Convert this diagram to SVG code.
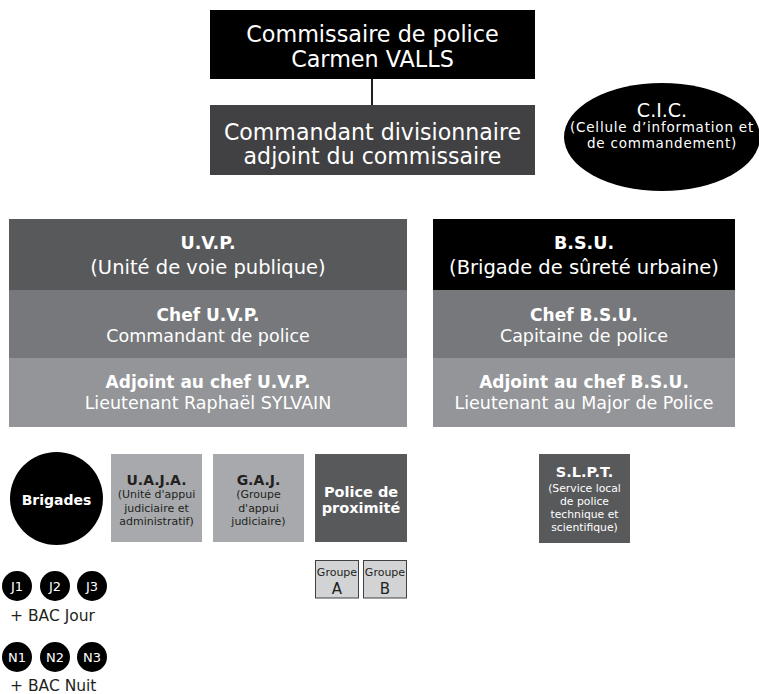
<svg xmlns="http://www.w3.org/2000/svg" width="759" height="694" viewBox="0 0 759 694">
<style>
text{font-family:"DejaVu Sans","Liberation Sans",sans-serif;text-anchor:middle}
.w{fill:#ffffff}
.k{fill:#231f20}
.b{font-weight:bold}
.blk{fill:#000000}
.dk{fill:#414042}
.g1{fill:#58595b}
.g2{fill:#77787b}
.g3{fill:#939598}
.g4{fill:#a7a9ac}
.grp{fill:#d1d3d4;stroke:#414042;stroke-width:1}
.conn{stroke:#231f20;stroke-width:2;fill:none}
</style>
<rect width="759" height="694" fill="#ffffff"/>
<g id="connectors">
<line class="conn" x1="372" y1="79" x2="372" y2="105"/>
</g>
<g id="commissaire">
<rect class="blk" x="210" y="10" width="325" height="69"/>
<text class="w" x="372.5" y="42" font-size="22.3">Commissaire de police</text>
<text class="w" x="372.5" y="67" font-size="22.3">Carmen VALLS</text>
</g>
<g id="commandant">
<rect class="dk" x="210" y="105" width="325" height="70"/>
<text class="w" x="372.5" y="140" font-size="22.1">Commandant divisionnaire</text>
<text class="w" x="372.5" y="164" font-size="22.1">adjoint du commissaire</text>
</g>
<g id="cic">
<ellipse class="blk" cx="662" cy="137" rx="98" ry="54"/>
<text class="w" x="662" y="117" font-size="19">C.I.C.</text>
<text class="w" x="662" y="132" font-size="13.5" letter-spacing="0.8">(Cellule d’information et</text>
<text class="w" x="662" y="148" font-size="13.5" letter-spacing="0.8">de commandement)</text>
</g>
<g id="uvp">
<rect class="g1" x="9" y="219" width="398" height="71"/>
<rect class="g2" x="9" y="290" width="398" height="68"/>
<rect class="g3" x="9" y="358" width="398" height="69"/>
<text class="w b" x="208" y="249" font-size="17.5">U.V.P.</text>
<text class="w" x="208" y="274" font-size="19.5">(Unité de voie publique)</text>
<text class="w b" x="208" y="321" font-size="17">Chef U.V.P.</text>
<text class="w" x="208" y="342" font-size="17.5">Commandant de police</text>
<text class="w b" x="208" y="388" font-size="17">Adjoint au chef U.V.P.</text>
<text class="w" x="208" y="409" font-size="17.5">Lieutenant Raphaël SYLVAIN</text>
</g>
<g id="bsu">
<rect class="blk" x="433" y="219" width="302" height="71"/>
<rect class="g2" x="433" y="290" width="302" height="68"/>
<rect class="g3" x="433" y="358" width="302" height="69"/>
<text class="w b" x="584" y="249" font-size="17.5">B.S.U.</text>
<text class="w" x="584" y="274" font-size="19.5">(Brigade de sûreté urbaine)</text>
<text class="w b" x="584" y="321" font-size="17">Chef B.S.U.</text>
<text class="w" x="584" y="342" font-size="17.5">Capitaine de police</text>
<text class="w b" x="584" y="388" font-size="17">Adjoint au chef B.S.U.</text>
<text class="w" x="584" y="409" font-size="17.5">Lieutenant au Major de Police</text>
</g>
<g id="brigades">
<circle class="blk" cx="56.5" cy="498.5" r="46.5"/>
<text class="w b" x="56.5" y="505" font-size="14">Brigades</text>
</g>
<g id="uaja">
<rect class="g4" x="111" y="454" width="91" height="88"/>
<text class="k b" x="156.5" y="485" font-size="14">U.A.J.A.</text>
<text class="k" x="156.5" y="498" font-size="11">(Unité d'appui</text>
<text class="k" x="156.5" y="512" font-size="11">judiciaire et</text>
<text class="k" x="156.5" y="525" font-size="11">administratif)</text>
</g>
<g id="gaj">
<rect class="g4" x="213" y="454" width="91" height="88"/>
<text class="k b" x="258.5" y="485" font-size="14">G.A.J.</text>
<text class="k" x="258.5" y="498" font-size="11">(Groupe</text>
<text class="k" x="258.5" y="512" font-size="11">d'appui</text>
<text class="k" x="258.5" y="525" font-size="11">judiciaire)</text>
</g>
<g id="police">
<rect class="g1" x="315" y="454" width="92" height="88"/>
<text class="w b" x="361" y="497" font-size="14.5">Police de</text>
<text class="w b" x="361" y="513" font-size="14.5">proximité</text>
</g>
<g id="groupeA">
<rect class="grp" x="315.5" y="560.5" width="43" height="37.5"/>
<text class="k" x="337" y="576" font-size="11">Groupe</text>
<text class="k" x="337" y="594" font-size="15">A</text>
</g>
<g id="groupeB">
<rect class="grp" x="363.5" y="560.5" width="43" height="37.5"/>
<text class="k" x="385" y="576" font-size="11">Groupe</text>
<text class="k" x="385" y="594" font-size="15">B</text>
</g>
<g id="slpt">
<rect class="g1" x="539" y="454" width="91" height="89"/>
<text class="w b" x="584.5" y="477" font-size="14.5">S.L.P.T.</text>
<text class="w" x="584.5" y="492" font-size="10.8">(Service local</text>
<text class="w" x="584.5" y="505" font-size="10.8">de police</text>
<text class="w" x="584.5" y="518" font-size="10.8">technique et</text>
<text class="w" x="584.5" y="531" font-size="10.8">scientifique)</text>
</g>
<g id="jour">
<circle class="blk" cx="17" cy="586" r="15"/>
<circle class="blk" cx="55" cy="586" r="15"/>
<circle class="blk" cx="92" cy="586" r="15"/>
<text class="w" x="17" y="591" font-size="13">J1</text>
<text class="w" x="55" y="591" font-size="13">J2</text>
<text class="w" x="92" y="591" font-size="13">J3</text>
<text class="k" x="10" y="621" font-size="15.5" style="text-anchor:start">+ BAC Jour</text>
</g>
<g id="nuit">
<circle class="blk" cx="17" cy="657" r="15"/>
<circle class="blk" cx="55" cy="657" r="15"/>
<circle class="blk" cx="92" cy="657" r="15"/>
<text class="w" x="17" y="662" font-size="13">N1</text>
<text class="w" x="55" y="662" font-size="13">N2</text>
<text class="w" x="92" y="662" font-size="13">N3</text>
<text class="k" x="10" y="691" font-size="15.5" style="text-anchor:start">+ BAC Nuit</text>
</g>
</svg>
